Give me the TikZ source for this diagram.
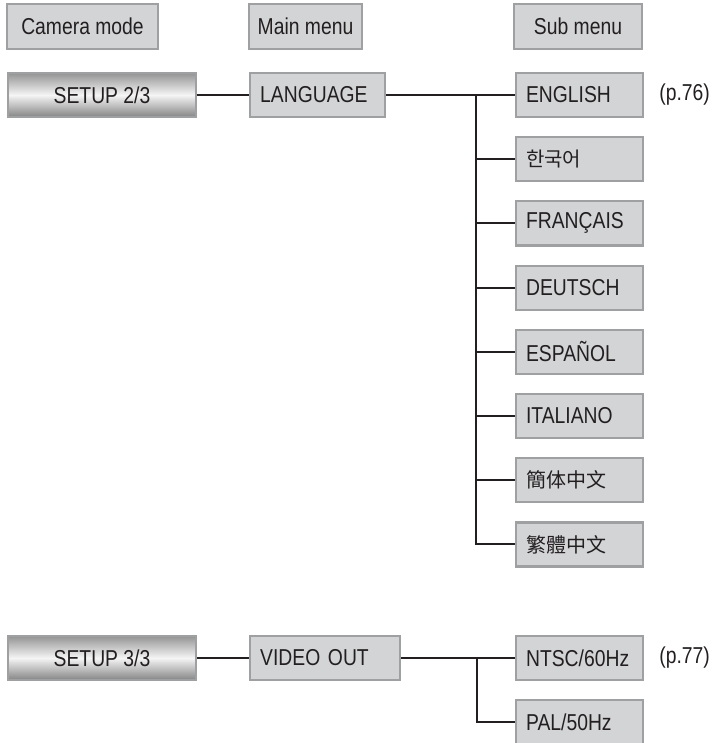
\documentclass[tikz,border=0pt]{standalone}
\usepackage{fontspec}
\setmainfont{Liberation Sans}[FakeStretch=0.84]
\newfontfamily\krfont{Noto Sans CJK KR}
\newfontfamily\scfont{Noto Sans CJK SC}
\newfontfamily\tcfont{Noto Sans CJK TC}
\usetikzlibrary{positioning}
\definecolor{boxgray}{HTML}{D3D4D6}
\definecolor{edgegray}{HTML}{9FA0A2}
\definecolor{ink}{HTML}{231F20}

\begin{document}
\begin{tikzpicture}[x=1pt,y=-1pt,
 every node/.style={font=\fontsize{23}{27}\selectfont,text=ink},
 headbox/.style={draw=edgegray,line width=2.2pt,fill=boxgray,minimum height=45pt,inner sep=0pt},
 modebox/.style={draw=edgegray,line width=2.2pt,minimum width=188pt,minimum height=44pt,inner sep=0pt,
  top color=black!42,bottom color=black!48,middle color=white!96!black},
 menubox/.style={draw=edgegray,line width=2.2pt,fill=boxgray,minimum height=44pt,
  inner xsep=10pt,inner ysep=0pt,align=left},
 subbox/.style={menubox,text width=107pt},
 link/.style={draw=ink,line width=2pt}]
\useasboundingbox (0,0) rectangle (711,743);

% column heads
\node[headbox,minimum width=151pt] (camhead) at (82.5,26.5) {Camera mode};
\node[headbox,minimum width=113pt] (mainhead) at (305.5,26.5) {Main menu};
\node[headbox,minimum width=128pt] (subhead) at (578,26.5) {Sub menu};

% SETUP 2/3
\node[modebox] (setupA) at (102,95) {SETUP 2/3};
\node[menubox,text width=115pt,right=52pt of setupA] (lang) {LANGUAGE};
\node[subbox,anchor=west] (english) at (515,95) {ENGLISH};
\node[subbox,below=18pt of english] (korean) {\krfont\fontsize{20}{24}\selectfont 한국어};
\node[subbox,below=18pt of korean] (french) {FRANÇAIS};
\node[subbox,below=18pt of french] (german) {DEUTSCH};
\node[subbox,below=18pt of german] (spanish) {ESPAÑOL};
\node[subbox,below=18pt of spanish] (italian) {ITALIANO};
\node[subbox,below=18pt of italian] (simpcn) {\scfont\fontsize{20}{24}\selectfont 簡体中文};
\node[subbox,below=18pt of simpcn] (tradcn) {\tcfont\fontsize{20}{24}\selectfont 繁體中文};
\node[right=15pt of english,inner sep=0pt] (pageA) {(p.76)};
\coordinate (forkA) at (476,95);

\draw[link] (setupA)--(lang);
\draw[link] (lang)--(english);
\draw[link] (forkA)|-(tradcn.west);
\foreach \n in {korean,french,german,spanish,italian,simpcn}
 \draw[link] (forkA|-\n.west)--(\n.west);

% SETUP 3/3
\node[modebox] (setupB) at (102,658) {SETUP 3/3};
\node[menubox,text width=130pt,right=52pt of setupB] (video) {VIDEO OUT};
\node[subbox,anchor=west] (ntsc) at (515,658) {NTSC/60Hz};
\node[subbox,below=18pt of ntsc] (pal) {PAL/50Hz};
\node[right=15pt of ntsc,inner sep=0pt] (pageB) {(p.77)};
\coordinate (forkB) at (477,658);

\draw[link] (setupB)--(video);
\draw[link] (video)--(ntsc);
\draw[link] (forkB)|-(pal.west);
\end{tikzpicture}
\end{document}
